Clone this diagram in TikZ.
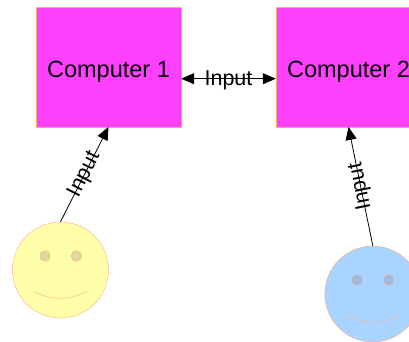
\documentclass[tikz,border=0pt]{standalone}
\usepackage{fontspec}
\setmainfont{Liberation Sans}
\usetikzlibrary{arrows.meta}

\definecolor{boxpink}{HTML}{FF40FF}
\definecolor{rim}{HTML}{FFAA80}
\definecolor{faceyellow}{HTML}{FFFFAA}
\definecolor{eyeyellow}{HTML}{DDDA99}
\definecolor{faceblue}{HTML}{A8D4FF}
\definecolor{eyeblue}{HTML}{99BBDD}

% eyes and mouth of a face node
\newcommand{\facefeatures}[2]{%
 \begin{scope}[shift={(#1.center)}]
  \filldraw[draw=rim,fill=#2] (-15.5,-14) circle (5.3pt);
  \filldraw[draw=rim,fill=#2] (15.8,-14) circle (5.3pt);
  \draw[rim] (-26.5,21.5) .. controls (-9,30.6) and (9,30.6) .. (26.8,21);
 \end{scope}}

\begin{document}
\begin{tikzpicture}[x=1pt,y=-1pt,
 comp/.style={draw=rim,fill=boxpink,minimum width=145pt,minimum height=120pt,
  inner sep=0pt,font=\fontsize{23.5}{28}\selectfont,text height=27pt,text depth=5pt},
 face/.style={circle,draw=rim,minimum size=96pt,inner sep=0pt},
 link/.style={line width=0.8pt},
 lbl/.style={font=\fontsize{21.5}{25}\selectfont,inner sep=0pt},
 >={Triangle[length=13pt,width=11pt]}]
 \clip (0,0) rectangle (409,341);
 \node[comp] (comp1) at (108.5,66.7) {Computer 1};
 \node[comp] (comp2) at (348.5,66.7) {Computer 2};
 \node[face,fill=faceyellow] (user1) at (60.5,270) {};
 \node[face,fill=faceblue] (user2) at (372.8,294) {};
 \facefeatures{user1}{eyeyellow}
 \facefeatures{user2}{eyeblue}
 \draw[link,<->] ([yshift=-12pt]comp1.east) -- ([yshift=-12pt]comp2.west)
  node[lbl,midway,yshift=-1.5pt] (in12) {Input};
 \draw[link,->] (user1.north) -- (comp1.south)
  node[lbl,midway,sloped,allow upside down] (in1) {Input};
 \draw[link,->] (user2.north) -- (comp2.south)
  node[lbl,midway,sloped,allow upside down] (in2) {Input};
 %\draw (230,100) node {Input};
\end{tikzpicture}
\end{document}
